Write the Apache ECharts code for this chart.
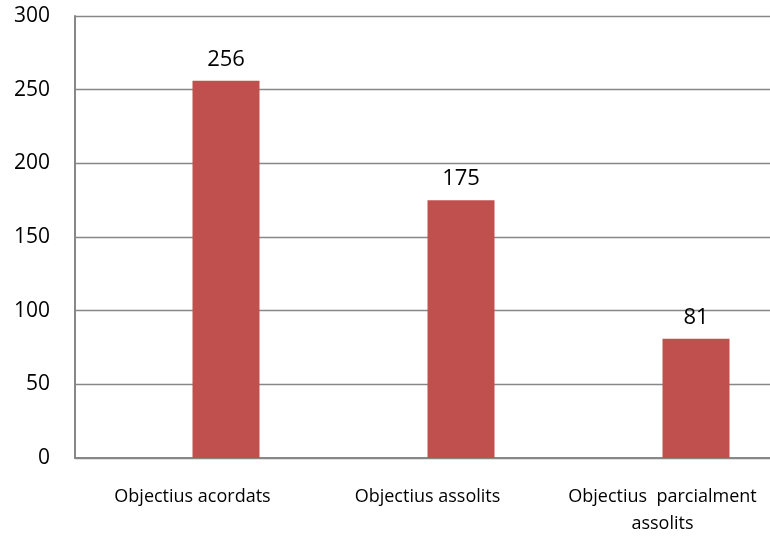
<!DOCTYPE html>
<html>
<head>
<meta charset="utf-8">
<script src="https://cdn.jsdelivr.net/npm/echarts@6/dist/echarts.min.js"></script>
<style>
html,body{margin:0;padding:0;background:#fff;}
#wrap{width:770px;height:537px;overflow:hidden;position:relative;}
#chart{width:790px;height:537px;position:absolute;left:0;top:0;}
</style>
</head>
<body>
<div id="wrap"><div id="chart"></div></div>
<script>
var categories = ['Objectius acordats', 'Objectius assolits', 'Objectius  parcialment\nassolits'];
var emptySeries = [null, null, null];
var objectiusValues = [256, 175, 81];
var yTicks = [0, 50, 100, 150, 200, 250, 300];

var chart = echarts.init(document.getElementById('chart'));
chart.setOption({
  animation: false,
  backgroundColor: '#ffffff',
  grid: { left: 75, right: 10, top: 16, bottom: 75, containLabel: false },
  xAxis: {
    type: 'category',
    data: categories,
    axisTick: { show: false },
    axisLine: { show: true, lineStyle: { color: '#878787', width: 2 } },
    axisLabel: {
      color: '#000', fontFamily: 'Open Sans', fontSize: 18,
      margin: 25, lineHeight: 27, interval: 0
    }
  },
  yAxis: {
    type: 'value',
    min: yTicks[0],
    max: yTicks[yTicks.length - 1],
    interval: yTicks[1] - yTicks[0],
    axisTick: { show: false },
    axisLine: { show: true, lineStyle: { color: '#878787', width: 2 } },
    splitLine: { show: true, lineStyle: { color: '#878787', width: 1.3 } },
    axisLabel: { color: '#000', fontFamily: 'Open Sans', fontSize: 21, margin: 25 }
  },
  series: [
    {
      type: 'bar',
      data: emptySeries,
      barWidth: 67,
      barGap: '0%'
    },
    {
      type: 'bar',
      data: objectiusValues,
      barWidth: 67,
      barGap: '0%',
      itemStyle: { color: '#C0504D' },
      label: {
        show: true, position: 'top', distance: 10,
        color: '#000', fontFamily: 'Open Sans', fontSize: 22
      }
    }
  ]
});
</script>
</body>
</html>
